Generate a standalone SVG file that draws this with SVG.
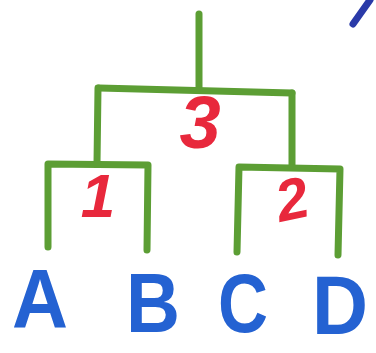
<svg xmlns="http://www.w3.org/2000/svg" width="376" height="353" viewBox="0 0 376 353">
<style>
.br{fill:none;stroke:#5c9e34;stroke-width:7;stroke-linecap:round;stroke-linejoin:round}
.num{font-family:"Liberation Sans",sans-serif;font-weight:bold;font-style:italic;fill:#e8283c;text-anchor:middle}
.leaf{font-family:"Liberation Sans",sans-serif;font-weight:bold;fill:#2462d2;text-anchor:middle;font-size:84px}
</style>
<rect width="376" height="353" fill="#ffffff"/>
<g id="connectors">
<path class="br" d="M199,14 L199,90"/>
<path class="br" d="M99,88 L292,93"/>
<path class="br" d="M98,88 L97,163"/>
<path class="br" d="M292,93 L292,167"/>
<path class="br" d="M48,247 L48,164 L148,165 L147,250"/>
<path class="br" d="M237,252 L239,167 L340,169 L338,255"/>
</g>
<g id="n3"><text class="num" x="200" y="148" font-size="74">3</text></g>
<g id="n1"><text class="num" x="98" y="217" font-size="62">1</text></g>
<g id="n2"><text class="num" x="292" y="219" font-size="58" transform="rotate(-12 292 200)">2</text></g>
<g id="A"><text class="leaf" x="40" y="328" textLength="56" lengthAdjust="spacingAndGlyphs">A</text></g>
<g id="B"><text class="leaf" x="153" y="332" textLength="54" lengthAdjust="spacingAndGlyphs">B</text></g>
<g id="C"><text class="leaf" x="243" y="332" textLength="50" lengthAdjust="spacingAndGlyphs">C</text></g>
<g id="D"><text class="leaf" x="340" y="334" textLength="56" lengthAdjust="spacingAndGlyphs">D</text></g>
<path d="M370,0 L353,24" stroke="#2a3aa8" stroke-width="7" stroke-linecap="round" fill="none"/>
</svg>
